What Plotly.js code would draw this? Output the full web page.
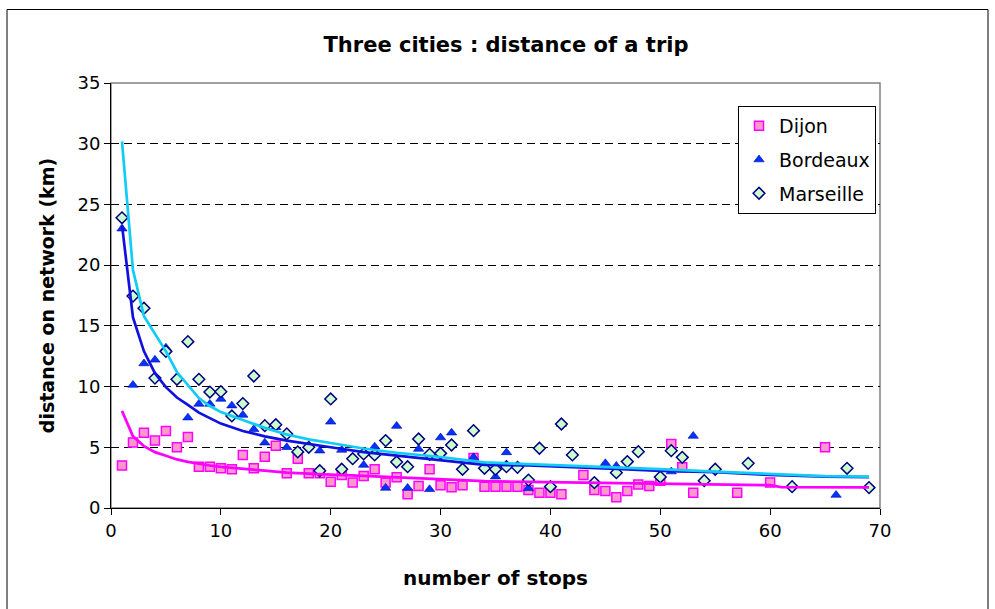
<!DOCTYPE html>
<html>
<head>
<meta charset="utf-8">
<script src="https://cdn.plot.ly/plotly-3.0.1.min.js"></script>
<style>
html,body{margin:0;padding:0;background:#fff;}
#chart{width:995px;height:609px;}
</style>
</head>
<body>
<div id="chart"></div>
<script>
// ---- Data ----
const dijonX = [1,2,3,4,5,6,7,8,9,10,11,12,13,14,15,16,17,18,19,20,21,22,23,24,25,26,27,28,29,30,31,32,33,34,35,36,37,38,39,40,41,43,44,45,46,47,48,49,50,51,52,53,57,60,65];
const dijonY = [3.5,5.4,6.2,5.55,6.34,5.0,5.85,3.4,3.4,3.27,3.19,4.37,3.27,4.23,5.13,2.86,4.06,2.86,2.86,2.17,2.72,2.11,2.64,3.19,2.11,2.53,1.13,1.81,3.19,1.87,1.7,1.87,4.12,1.76,1.76,1.76,1.76,1.48,1.26,1.26,1.13,2.72,1.48,1.4,0.88,1.4,1.93,1.81,2.25,5.27,3.35,1.26,1.26,2.09,5.0];

const bordeauxX = [1,2,3,4,5,6,7,8,9,10,11,12,13,14,15,16,19,20,21,23,24,25,26,27,28,29,30,31,33,35,36,38,41,45,46,51,53,66];
const bordeauxY = [23.0,10.13,11.9,12.2,13.2,10.8,7.44,8.57,8.57,8.98,8.43,7.66,6.48,5.38,6.65,5.0,4.72,7.1,4.78,3.54,5.05,1.65,6.75,1.65,4.86,1.54,5.8,6.2,4.17,2.58,4.58,1.62,6.92,3.68,3.46,3.0,5.93,1.07];

const marseilleX = [1,2,3,4,5,6,7,8,9,10,11,12,13,14,15,16,17,18,19,20,21,22,23,24,25,26,27,28,29,30,31,32,33,34,35,36,37,38,39,40,41,42,44,46,47,48,50,51,52,54,55,58,62,67,69];
const marseilleY = [23.9,17.45,16.45,10.7,12.9,10.6,13.7,10.6,9.55,9.58,7.58,8.6,10.87,6.78,6.86,6.1,4.62,5.0,3.07,8.98,3.19,4.06,4.45,4.37,5.55,3.79,3.4,5.68,4.42,4.5,5.19,3.19,6.37,3.27,3.19,3.4,3.35,2.3,4.92,1.76,6.92,4.37,2.09,2.91,3.82,4.64,2.55,4.72,4.17,2.25,3.19,3.68,1.76,3.27,1.68];

// trend curves
const dijonFitX = [1,2,3,4,5,6,7,8,9,10,12,14,16,18,20,23,26,30,34,38,42,46,50,55,60,61,65,69];
const dijonFitY = [8.0,5.9,5.1,4.6,4.3,4.0,3.8,3.62,3.5,3.38,3.2,3.07,2.92,2.82,2.75,2.65,2.52,2.4,2.22,2.15,2.1,2.05,1.98,1.92,1.88,1.72,1.72,1.7];

const fitX = [1,2,3,4,5,6,7,8,9,10,12,14,16,18,20,23,26,30,34,38,42,46,50,55,60,65,69];
const bordeauxFitY = [23.3,15.7,12.9,11.1,9.95,9.1,8.5,7.85,7.4,6.95,6.34,5.9,5.55,5.25,5.0,4.6,4.3,3.95,3.55,3.5,3.38,3.22,3.05,2.95,2.72,2.58,2.55];
const marseilleFitY = [30.2,19.6,15.8,14.3,12.9,11.2,10.1,9.05,8.4,7.9,7.25,6.6,6.05,5.65,5.35,4.9,4.55,4.2,3.75,3.62,3.45,3.3,3.2,3.0,2.78,2.62,2.58];

const xTicks = [0,10,20,30,40,50,60,70];
const yTicks = [0,5,10,15,20,25,30,35];

const FONT = '"DejaVu Sans", "Liberation Sans", Arial, sans-serif';

const traces = [
  {x: dijonX, y: dijonY, name: 'Dijon', type: 'scatter', mode: 'markers',
   legendgroup: 'a',
   marker: {symbol: 'square', size: 9, color: '#FF99CC', line: {color: '#FF00FF', width: 1.5}}},
  {x: bordeauxX, y: bordeauxY, name: 'Bordeaux', type: 'scatter', mode: 'markers',
   legendgroup: 'b',
   marker: {symbol: 'triangle-up', size: 9, color: '#0033FF', line: {color: '#0000AA', width: 0.6}}},
  {x: marseilleX, y: marseilleY, name: 'Marseille', type: 'scatter', mode: 'markers',
   legendgroup: 'c',
   marker: {symbol: 'diamond', size: 9, color: '#CCFFCC', line: {color: '#000080', width: 1.5}}},
  {x: dijonFitX, y: dijonFitY, type: 'scatter', mode: 'lines', showlegend: false,
   line: {color: '#FF00FF', width: 2.7}},
  {x: fitX, y: bordeauxFitY, type: 'scatter', mode: 'lines', showlegend: false,
   line: {color: '#1111DD', width: 2.7}},
  {x: fitX, y: marseilleFitY, type: 'scatter', mode: 'lines', showlegend: false,
   line: {color: '#11CCF5', width: 2.7}}
];

const layout = {
  width: 995, height: 609,
  margin: {l: 111, r: 115, t: 83, b: 101},
  paper_bgcolor: '#ffffff', plot_bgcolor: '#ffffff',
  font: {family: FONT, color: '#000', size: 18},
  showlegend: true,
  title: {text: '<b>Three cities : distance of a trip</b>', font: {family: FONT, size: 21, color: '#000'},
          x: (506-111)/769, xanchor: 'center', xref: 'paper', y: 1 - 45/609, yanchor: 'middle'},
  xaxis: {
    range: [0, 70], tickvals: xTicks, ticktext: xTicks.map(String),
    showgrid: false, zeroline: false,
    showline: true, linecolor: '#000', linewidth: 1,
    ticks: 'outside', ticklen: 6, tickcolor: '#000', tickwidth: 1,
    tickfont: {family: FONT, size: 18, color: '#000'},
    title: {text: '<b>number of stops</b>', font: {family: FONT, size: 20, color: '#000'}, standoff: 31}
  },
  yaxis: {
    range: [0, 35], tickvals: yTicks, ticktext: yTicks.map(String),
    showgrid: true, gridcolor: '#000', gridwidth: 1, griddash: '8px,5px',
    zeroline: false,
    showline: true, linecolor: '#000', linewidth: 1,
    ticks: 'outside', ticklen: 6, tickcolor: '#000', tickwidth: 1,
    tickfont: {family: FONT, size: 18, color: '#000'},
    title: {text: '<b>distance on network (km)</b>', font: {family: FONT, size: 19, color: '#000'}, standoff: 17}
  },
  legend: {
    x: (738-111)/769, y: (508-106)/425, xanchor: 'left', yanchor: 'top',
    bgcolor: '#ffffff', bordercolor: '#000', borderwidth: 1,
    font: {family: FONT, size: 19, color: '#000'},
    traceorder: 'grouped', tracegroupgap: 6, itemwidth: 30
  },
  shapes: [
    // grey plot-area frame (top/right)
    {type: 'rect', xref: 'paper', yref: 'paper', x0: 0, x1: 1, y0: 0, y1: 1,
     line: {color: '#808080', width: 1.5}, layer: 'below'},
    // outer chart border
    {type: 'rect', xref: 'paper', yref: 'paper',
     x0: (7-111)/769, x1: (988-111)/769, y0: (508-640)/425, y1: (508-9.5)/425,
     line: {color: '#000', width: 1}, layer: 'below'}
  ]
};

Plotly.newPlot('chart', traces, layout, {displayModeBar: false, staticPlot: true});
</script>
</body>
</html>
